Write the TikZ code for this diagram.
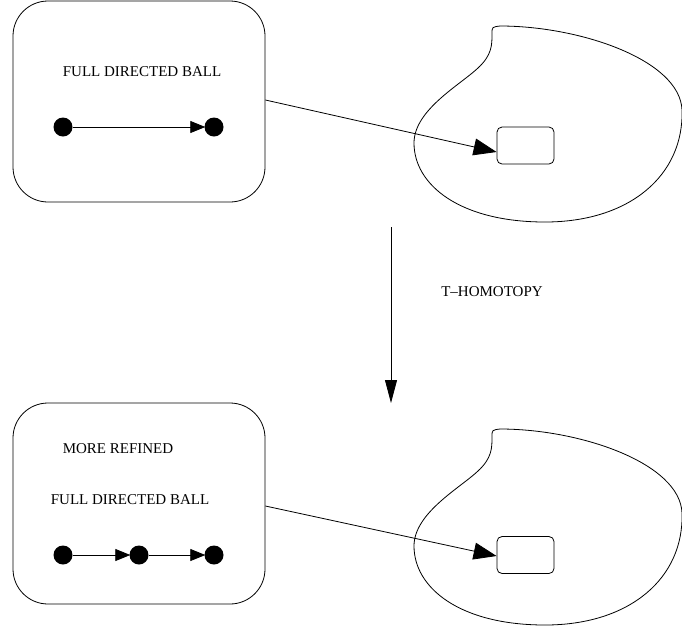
\documentclass[tikz,border=0pt]{standalone}
\usepackage{fontspec}
\setmainfont{Liberation Serif}
\usetikzlibrary{arrows.meta}

\tikzset{
  ballbox/.style={shape=rectangle,draw=black,rounded corners=35pt,minimum width=252pt,minimum height=201pt,line width=0.8pt},
  cell/.style={shape=rectangle,draw=black,rounded corners=5pt,minimum width=57pt,minimum height=37pt,line width=0.8pt},
  dot/.style={shape=circle,fill=black,inner sep=0pt,minimum size=19pt},
  lbl/.style={align=center,inner sep=0pt,font=\fontsize{15}{18}\selectfont},
  bigarrow/.style={-{Triangle[length=23pt,width=17pt]},draw=black,line width=0.8pt},
  smallarrow/.style={-{Triangle[length=15pt,width=12pt]},draw=black,line width=0.8pt,shorten >=-1pt},
  homarrow/.style={-{Triangle[length=23pt,width=12pt]},draw=black,line width=0.8pt}
}

\begin{document}
\begin{tikzpicture}[x=1pt,y=-1pt]
\useasboundingbox (0,0) rectangle (682,630);

\node[ballbox] (0) at (139,101.5) {};
\node[lbl] (1) at (142,72) {FULL DIRECTED BALL};
\node[dot] (2) at (63,127) {};
\node[dot] (3) at (214,127) {};

\node[ballbox] (4) at (139,503.5) {};
\node[lbl] (5) at (118,449) {MORE REFINED};
\node[lbl] (6) at (130,500) {FULL DIRECTED BALL};
\node[dot] (7) at (63,555) {};
\node[dot] (8) at (139,555) {};
\node[dot] (9) at (214,555) {};

\foreach \dy in {0,403} {
\draw[line width=0.8pt,shift={(0,\dy)}] (492,34) .. controls (492,27) .. (500,26)
  .. controls (580,26) and (680,60) .. (682,110)
  .. controls (684,175) and (630,222) .. (545,222)
  .. controls (460,222) and (414,185) .. (414,143)
  .. controls (414,110) and (460,85) .. (478,68)
  .. controls (492,55) and (492,45) .. (492,34) -- cycle;
}
\node[cell] (10) at (525.5,145.5) {};
\node[cell] (11) at (525.5,555) {};

\coordinate (12) at (391,227);
\coordinate (13) at (391,403);
\node[lbl] (14) at (492,292) {T--HOMOTOPY};

\draw [smallarrow] (2) -- (3);
\draw [smallarrow] (7) -- (8);
\draw [smallarrow] (8) -- (9);
\draw [bigarrow] ([yshift=1.5pt]0.east) -- ([yshift=-6.5pt]10.west);
\draw [bigarrow] ([yshift=-2.5pt]4.east) -- ([yshift=-1pt]11.west);
\draw [homarrow] (12) -- (13);
\end{tikzpicture}
\end{document}
